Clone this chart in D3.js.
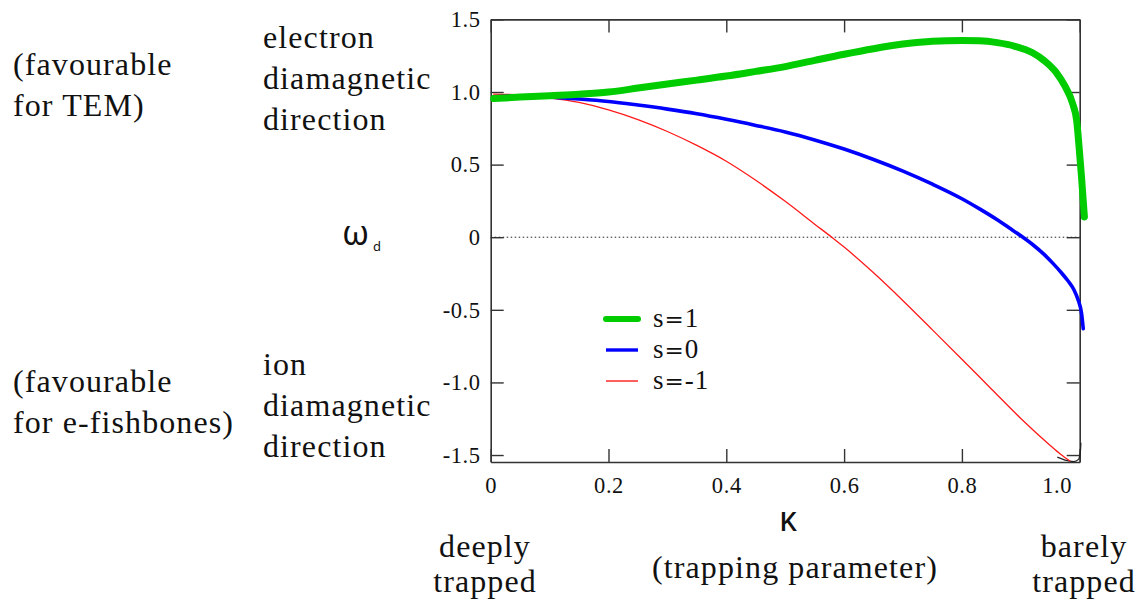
<!DOCTYPE html>
<html>
<head>
<meta charset="utf-8">
<script src="https://cdn.jsdelivr.net/npm/d3@7"></script>
<style>
  html, body { margin: 0; padding: 0; background: #fff; }
  svg { display: block; }
</style>
</head>
<body>
<svg id="chart" width="1147" height="601"></svg>
<script>
// ---- data ----
const kappaTicks = [0, 0.2, 0.4, 0.6, 0.8, 1.0];
const kappaTickLabels = ["0", "0.2", "0.4", "0.6", "0.8", "1.0"];
const omegaTicks = [-1.5, -1.0, -0.5, 0, 0.5, 1.0, 1.5];
const omegaTickLabels = ["-1.5", "-1.0", "-0.5", "0", "0.5", "1.0", "1.5"];

const seriesNames = ["s=1", "s=0", "s=-1"];
const seriesColors = ["#00cc00", "#0000ff", "#ff1a1a"];
const seriesWidths = [7, 3.6, 1.3];

// s = 1 : [kappa, omega_d]
const s1 = [[0.005,0.955],[0.05,0.965],[0.1,0.975],[0.15,0.985],[0.2,1.0],[0.25,1.027],[0.3,1.055],
  [0.35,1.082],[0.4,1.11],[0.45,1.142],[0.5,1.175],[0.55,1.218],[0.6,1.26],[0.65,1.298],[0.7,1.33],
  [0.75,1.35],[0.8,1.355],[0.83,1.353],[0.86,1.34],[0.89,1.315],[0.92,1.27],[0.94,1.215],[0.96,1.135],
  [0.975,1.04],[0.988,0.92],[0.995,0.8],[0.999,0.62],[1.003,0.42],[1.006,0.25],[1.008,0.14]];
// s = 0
const s0 = [[0.005,0.967],[0.05,0.972],[0.1,0.965],[0.15,0.952],[0.2,0.935],[0.25,0.91],[0.3,0.882],
  [0.35,0.85],[0.4,0.812],[0.45,0.77],[0.5,0.725],[0.55,0.67],[0.6,0.607],[0.65,0.535],[0.7,0.455],
  [0.75,0.365],[0.8,0.265],[0.83,0.195],[0.86,0.12],[0.88,0.065],[0.9,0.01],[0.92,-0.05],[0.94,-0.12],
  [0.955,-0.182],[0.97,-0.25],[0.98,-0.3],[0.99,-0.36],[0.998,-0.44],[1.003,-0.52],[1.006,-0.63]];
// s = -1
const sm1 = [[0.005,0.986],[0.05,0.98],[0.1,0.96],[0.15,0.928],[0.2,0.877],[0.25,0.81],[0.3,0.728],
  [0.35,0.632],[0.4,0.523],[0.45,0.392],[0.5,0.247],[0.55,0.09],[0.579,0],[0.6,-0.068],[0.65,-0.245],
  [0.7,-0.437],[0.75,-0.638],[0.8,-0.84],[0.85,-1.045],[0.9,-1.248],[0.95,-1.434],[0.967,-1.493],[0.983,-1.54]];
// small black tail at the lower-right corner
const tail = [[0.962,-1.515],[0.975,-1.535],[0.99,-1.545],[0.998,-1.53],[1.001,-1.48],[1.002,-1.415]];

const seriesData = [s1, s0, sm1];

// ---- drawing ----
const SERIF = '"Liberation Serif", "Times New Roman", Tinos';
const SANS = '"Noto Sans", "DejaVu Sans"';
const svg = d3.select("#chart");
const x = d3.scaleLinear().domain([0, 1]).range([490.7, 1079.7]);
const y = d3.scaleLinear().domain([-1.548, 1.5]).range([462, 19.4]);

const axisColor = "#333";

// zero dotted line
svg.append("line")
  .attr("x1", x(0)).attr("x2", x(1))
  .attr("y1", y(0)).attr("y2", y(0))
  .attr("stroke", "#222").attr("stroke-width", 1)
  .attr("stroke-dasharray", "1.5,2.5");

function styleAxis(g) {
  g.attr("font-family", SERIF);
  g.selectAll("path.domain").attr("stroke", axisColor).attr("stroke-width", 1.6);
  g.selectAll(".tick line").attr("stroke", axisColor).attr("stroke-width", 1.4);
  g.selectAll(".tick text").attr("font-family", SERIF).attr("font-size", 22.5)
    .attr("letter-spacing", 0.6).attr("fill", "#111");
}

const gLeft = svg.append("g").attr("transform", `translate(${x(0)},0)`)
  .call(d3.axisLeft(y).tickValues(omegaTicks).tickSize(-13).tickSizeOuter(0).tickPadding(10)
    .tickFormat((d, i) => omegaTickLabels[i]));
styleAxis(gLeft);

const gRight = svg.append("g").attr("transform", `translate(${x(1)},0)`)
  .call(d3.axisRight(y).tickValues(omegaTicks).tickSize(-13).tickSizeOuter(0).tickFormat(""));
styleAxis(gRight);

const gBottom = svg.append("g").attr("transform", `translate(0,${y.range()[0]})`)
  .call(d3.axisBottom(x).tickValues(kappaTicks).tickSize(-13).tickSizeOuter(0).tickPadding(15)
    .tickFormat((d, i) => kappaTickLabels[i]));
styleAxis(gBottom);
gBottom.selectAll(".tick text").filter(d => d === 1).attr("dx", -23);

const gTop = svg.append("g").attr("transform", `translate(0,${y.range()[1]})`)
  .call(d3.axisTop(x).tickValues(kappaTicks).tickSize(-13).tickSizeOuter(0).tickFormat(""));
styleAxis(gTop);

// curves
const line = d3.line().x(d => x(d[0])).y(d => y(d[1])).curve(d3.curveMonotoneX);

svg.append("path").datum(tail).attr("d", line)
  .attr("fill", "none").attr("stroke", "#222").attr("stroke-width", 1.3);

[2, 1, 0].forEach(i => {
  svg.append("path").datum(seriesData[i]).attr("d", line)
    .attr("fill", "none").attr("stroke", seriesColors[i])
    .attr("stroke-width", seriesWidths[i])
    .attr("stroke-linejoin", "round").attr("stroke-linecap", "round");
});

// legend
const legY = [319, 350, 381];
seriesNames.forEach((name, i) => {
  svg.append("line").attr("x1", 606).attr("x2", 638).attr("y1", legY[i]).attr("y2", legY[i])
    .attr("stroke", seriesColors[i]).attr("stroke-width", [6, 3.4, 1.4][i])
    .attr("stroke-linecap", i === 0 ? "round" : "butt");
  const parts = name.split("=");
  const t = svg.append("text").attr("x", 653).attr("y", legY[i] + 8).attr("font-family", SERIF)
    .attr("font-size", 27).attr("fill", "#111").attr("letter-spacing", 1);
  t.append("tspan").text(parts[0]);
  t.append("tspan").attr("font-family", '"DejaVu Serif"').attr("font-size", 23).text("=");
  t.append("tspan").text(parts[1]);
});

// annotations
function multiline(xp, baselines, lines, size, anchor) {
  lines.forEach((t, i) => {
    svg.append("text").attr("x", xp).attr("y", baselines[i]).attr("font-size", size)
      .attr("font-family", SERIF).attr("fill", "#111")
      .attr("letter-spacing", 1.1)
      .attr("text-anchor", anchor || "start").text(t);
  });
}
multiline(13, [75, 116], ["(favourable", "for TEM)"], 32);
multiline(263, [48, 89, 130], ["electron", "diamagnetic", "direction"], 32);
multiline(13, [392, 433], ["(favourable", "for e-fishbones)"], 32);
multiline(263, [375, 416, 457], ["ion", "diamagnetic", "direction"], 32);
multiline(485, [557, 592], ["deeply", "trapped"], 32, "middle");
multiline(1084, [557, 592], ["barely", "trapped"], 32, "middle");
multiline(795, [578], ["(trapping parameter)"], 32, "middle");

// axis symbols
svg.append("text").attr("x", 342).attr("y", 245).attr("font-family", SANS).attr("fill", "#111")
  .attr("font-size", 34).text("ω");
svg.append("text").attr("x", 373).attr("y", 251).attr("font-family", SANS).attr("fill", "#111")
  .attr("font-size", 13).text("d");
svg.append("text").attr("x", 788).attr("y", 531).attr("font-family", SANS).attr("fill", "#111")
  .attr("font-size", 34).attr("text-anchor", "middle").text("κ");
</script>
</body>
</html>
